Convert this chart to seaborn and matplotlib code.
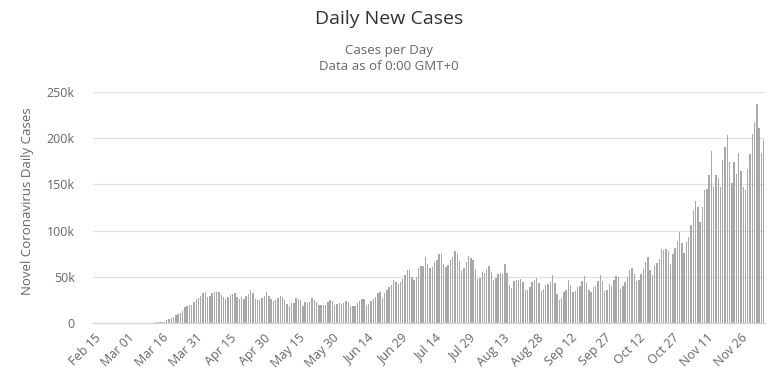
import pandas as pd
import matplotlib.pyplot as plt
import seaborn as sns

# daily new cases, Feb 15 .. Dec 06 (2020)
feb = [0, 0, 0, 0, 0, 0, 0, 0, 0, 0, 1, 1, 3, 5, 8]
mar = [7, 22, 27, 26, 73, 90, 110, 120, 200, 300, 380, 460, 630, 620, 810,
       1200, 1500, 2800, 4200, 5600, 7000, 8300, 10100, 10900, 12800, 17800,
       18800, 19500, 19900, 22300, 26400]
apr = [26900, 29700, 32300, 33300, 28200, 29600, 32100, 33300, 34000, 33800,
       30000, 27800, 25700, 27700, 30500, 31700, 32000, 28500, 26300, 28200,
       25800, 29100, 31200, 36200, 32000, 26300, 25000, 25400, 27300, 29500]
may = [34000, 29500, 25500, 23500, 24600, 27200, 29300, 28000, 25200, 20400,
       18900, 22100, 21500, 26800, 26300, 24500, 18900, 22900, 21600, 22400,
       27300, 24400, 23000, 19700, 19600, 19500, 19800, 22700, 25100, 24000,
       20000]
jun = [21000, 21700, 20100, 21600, 23700, 22600, 18800, 17900, 18600, 21600,
       23400, 26300, 25800, 19500, 21000, 24000, 26000, 28500, 32400, 33500,
       27000, 32500, 36000, 38600, 40900, 46700, 44400, 42000, 44500, 47400]
jul = [52000, 57000, 57500, 50000, 47000, 50000, 60000, 62000, 62000, 71000,
       64000, 60000, 61000, 66000, 68000, 75000, 75000, 64000, 61000, 63000,
       68000, 71000, 78000, 75000, 67000, 56000, 60000, 66000, 72000, 70000,
       68000]
aug = [58000, 48000, 49000, 55000, 54000, 58000, 62000, 55000, 46000, 49000,
       53000, 54000, 53000, 64000, 54000, 41000, 38000, 45000, 46000, 46000,
       48000, 44000, 36000, 36000, 39000, 44000, 46000, 49000, 43000, 35000,
       37000]
sep = [41000, 42000, 44000, 52000, 43000, 31000, 25000, 27000, 34000, 36000,
       46000, 41000, 34000, 35000, 39000, 40000, 45000, 51000, 43000, 36000,
       34000, 39000, 40000, 45000, 52000, 45000, 35000, 36000, 42000, 40000]
oct_ = [46000, 51000, 50000, 37000, 40000, 44000, 50000, 57000, 59000, 53000,
        45000, 47000, 53000, 58000, 66000, 71000, 57000, 52000, 63000, 65000,
        69000, 80000, 79000, 80000, 78000, 64000, 75000, 81000, 89000, 99000,
        87000]
nov = [76000, 88000, 93000, 106000, 122000, 132000, 126000, 109000, 126000,
       144000, 145000, 160000, 186000, 147000, 160000, 157000, 147000, 176000,
       191000, 203000, 174000, 151000, 174000, 161000, 184000, 165000, 147000,
       144000, 167000, 183000]
dec = [205000, 218000, 237000, 211000, 184000, 198000]

cases = feb + mar + apr + may + jun + jul + aug + sep + oct_ + nov + dec
dates = pd.date_range('2020-02-15', periods=len(cases), freq='D')

df = pd.DataFrame({'date': dates.strftime('%b %d'), 'cases': cases})

sns.set_style('white')
plt.rcParams['font.family'] = ['Open Sans', 'DejaVu Sans']

fig = plt.figure(figsize=(7.78, 3.89), dpi=100)
ax = fig.add_axes([0.1195, 0.1697, 0.8635, 0.5938])

sns.barplot(data=df, x='date', y='cases', color='#a8a8a8', width=0.62,
            linewidth=0, saturation=1, ax=ax)

ax.set_ylim(0, 250000)
ax.set_xlim(-0.5, len(cases) - 0.5)
ax.set_yticks([0, 50000, 100000, 150000, 200000, 250000])
ax.set_yticklabels(['0', '50k', '100k', '150k', '200k', '250k'])
ax.yaxis.grid(True, color='#e0e0e0', linewidth=0.9)
ax.set_axisbelow(True)

tick_pos = list(range(0, len(cases), 15))
ax.set_xticks(tick_pos)
ax.set_xticklabels([df['date'][i] for i in tick_pos], rotation=45,
                   ha='right', rotation_mode='anchor')
ax.tick_params(axis='x', length=0, pad=6, labelsize=9, labelcolor='#666666')
ax.tick_params(axis='y', length=0, pad=13, labelsize=9, labelcolor='#666666')

for s in ['top', 'right', 'left']:
    ax.spines[s].set_visible(False)
ax.spines['bottom'].set_color('#ccd6eb')
ax.spines['bottom'].set_linewidth(1)

ax.set_xlabel('')
ax.set_ylabel('')
fig.text(0.035, 0.483, 'Novel Coronavirus Daily Cases', rotation=90,
         ha='center', va='center', fontsize=9.5, color='#666666')

fig.text(0.5, 0.952, 'Daily New Cases', ha='center', va='center',
         fontsize=14, color='#333333')
fig.text(0.5, 0.871, 'Cases per Day', ha='center', va='center',
         fontsize=9.5, color='#666666')
fig.text(0.5, 0.828, 'Data as of 0:00 GMT+0', ha='center', va='center',
         fontsize=9.5, color='#666666')

plt.savefig('out.png', dpi=100)
